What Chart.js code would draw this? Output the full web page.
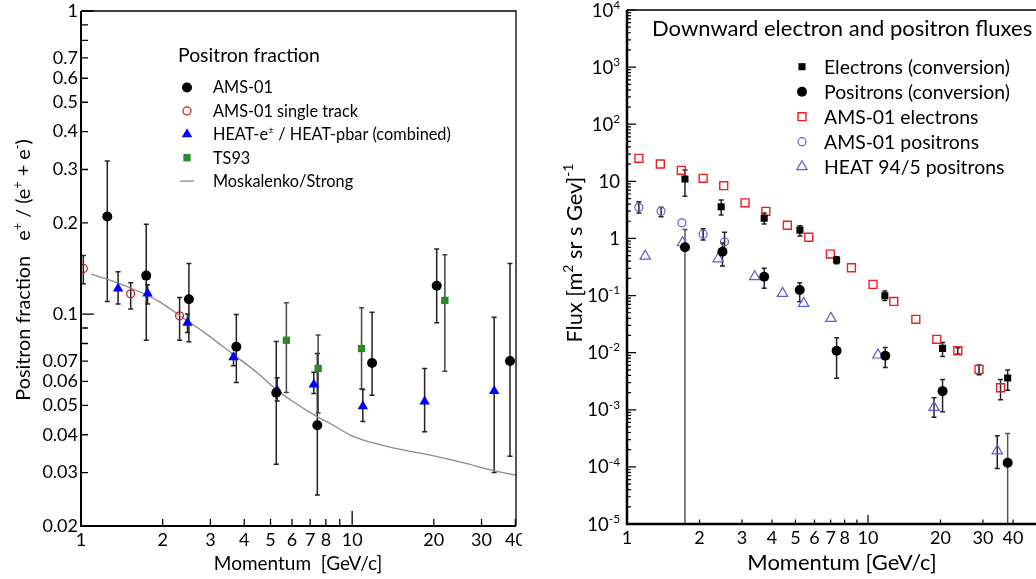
<!DOCTYPE html>
<html>
<head>
<meta charset="utf-8">
<script src="https://cdn.jsdelivr.net/npm/chart.js@4.4.1/dist/chart.umd.min.js"></script>
<style>
  body { margin: 0; background: #fff; width: 1036px; height: 579px; overflow: hidden; position: relative; }
  canvas { position: absolute; top: 0; }
  #fraction { left: 0; }
  #flux { left: 524px; }
</style>
</head>
<body>
<canvas id="fraction" width="522" height="579"></canvas>
<canvas id="flux" width="520" height="579"></canvas>
<script>
// ---- positron fraction (left) ----
const amsP      = [1.25, 1.74, 2.50, 3.74, 5.25, 7.44, 11.84, 20.5, 38.2];
const amsFrac   = [0.21, 0.134, 0.112, 0.078, 0.055, 0.043, 0.069, 0.124, 0.070];
const amsFracLo = [0.11, 0.082, 0.081, 0.0595, 0.032, 0.0253, 0.054, 0.0936, 0.034];
const amsFracHi = [0.32, 0.198, 0.147, 0.0998, 0.0813, 0.0742, 0.1015, 0.164, 0.147];

const singleP    = [1.02, 1.525, 2.31];
const singleFrac = [0.1415, 0.1167, 0.0987];
const singleLo   = [0.126, 0.104, 0.082];
const singleHi   = [0.156, 0.127, 0.1135];

const heatP      = [1.37, 1.76, 2.47, 3.65, 5.29, 7.22, 10.95, 18.5, 33.4];
const heatFrac   = [0.1216, 0.117, 0.0936, 0.072, 0.0561, 0.0586, 0.0497, 0.0515, 0.0558];
const heatFracLo = [0.108, 0.108, 0.087, 0.0675, 0.0517, 0.0547, 0.0442, 0.0409, 0.030];
const heatFracHi = [0.138, 0.125, 0.100, 0.0742, 0.0617, 0.0643, 0.0564, 0.0662, 0.0976];

const ts93P    = [5.72, 7.49, 10.83, 21.97];
const ts93Frac = [0.082, 0.0662, 0.077, 0.111];
const ts93Lo   = [0.0551, 0.0472, 0.0567, 0.0648];
const ts93Hi   = [0.109, 0.0853, 0.105, 0.157];

const modelP    = [1.09, 1.28, 1.644, 1.95, 2.30, 2.88, 3.60, 4.50, 5.17, 5.95, 7.45, 8.33, 9.85, 11, 14.6, 19.2, 25.4, 33.6, 40.2];
const modelFrac = [0.1355, 0.1295, 0.1185, 0.1098, 0.0993, 0.0864, 0.0742, 0.0637, 0.057, 0.052, 0.0458, 0.0435, 0.0399, 0.0384, 0.036, 0.0343, 0.0324, 0.0304, 0.0294];

const fracTicksX  = [1, 2, 3, 4, 5, 6, 7, 8, 9, 10, 20, 30, 40];
const fracLabelsX = ['1', '2', '3', '4', '5', '6', '7', '8', '', '10', '20', '30', '40'];
const fracTicksY  = [0.02, 0.03, 0.04, 0.05, 0.06, 0.07, 0.08, 0.09, 0.1, 0.2, 0.3, 0.4, 0.5, 0.6, 0.7, 0.8, 0.9, 1];
const fracLabelsY = ['0.02', '0.03', '0.04', '0.05', '0.06', '0.07', '', '', '0.1', '0.2', '0.3', '0.4', '0.5', '0.6', '0.7', '', '', '1'];

// ---- downward fluxes (right) ----
const elecConvP    = [1.74, 2.46, 3.71, 5.22, 7.41, 11.75, 20.4, 38];
const elecConvFlux = [11, 3.6, 2.25, 1.4, 0.418, 0.099, 0.0119, 0.0036];
const elecConvLo   = [5.5, 2.57, 1.79, 1.1, 0.36, 0.082, 0.0086, 0.0022];
const elecConvHi   = [15.8, 4.7, 2.8, 1.66, 0.48, 0.12, 0.0151, 0.00496];

const posConvP    = [1.74, 2.49, 3.71, 5.21, 7.41, 11.8, 20.4, 38];
const posConvFlux = [0.70, 0.585, 0.214, 0.125, 0.0108, 0.0088, 0.00212, 0.000118];
const posConvLo   = [1e-5, 0.33, 0.134, 0.078, 0.00355, 0.0055, 0.00092, 1e-5];
const posConvHi   = [1.44, 0.83, 0.30, 0.168, 0.0183, 0.0123, 0.0034, 0.000385];

const amsElecP    = [1.12, 1.375, 1.68, 2.07, 2.52, 3.09, 3.77, 4.63, 5.68, 6.98, 8.54, 10.5, 12.8, 15.8, 19.3, 23.6, 28.9, 35.5];
const amsElecFlux = [25.3, 20.1, 15.6, 11.3, 8.4, 4.2, 2.98, 1.7, 1.05, 0.533, 0.307, 0.157, 0.079, 0.0383, 0.0171, 0.0108, 0.0051, 0.00243];
const amsElecLo   = [null, null, null, null, null, null, null, null, null, null, null, null, null, null, null, 0.0095, 0.0041, 0.0015];
const amsElecHi   = [null, null, null, null, null, null, null, null, null, null, null, null, null, null, null, 0.0122, 0.0061, 0.0034];

const amsPosP    = [1.12, 1.385, 1.69, 2.07, 2.54];
const amsPosFlux = [3.5, 2.98, 1.88, 1.19, 0.875];
const amsPosLo   = [2.8, 2.4, null, 0.94, 0.64];
const amsPosHi   = [4.4, 3.5, null, 1.48, 1.28];

const heat95P    = [1.19, 1.70, 2.39, 3.39, 4.42, 5.41, 7.02, 11.0, 18.8, 34.4];
const heat95Flux = [0.49, 0.84, 0.44, 0.214, 0.109, 0.073, 0.0398, 0.0091, 0.0011, 0.000191];
const heat95Lo   = [null, null, null, null, null, null, null, null, 0.00074, 0.000094];
const heat95Hi   = [null, null, null, null, null, null, null, null, 0.00163, 0.00035];

const fluxTicksX  = [1, 2, 3, 4, 5, 6, 7, 8, 9, 10, 20, 30, 40];
const fluxLabelsX = ['1', '2', '3', '4', '5', '6', '7', '8', '', '10', '20', '30', '40'];
const fluxDecades = [1e-5, 1e-4, 1e-3, 1e-2, 1e-1, 1, 10, 1e2, 1e3, 1e4];
const fluxLabelsY = [['10', '-5'], ['10', '-4'], ['10', '-3'], ['10', '-2'], ['10', '-1'], ['1', ''], ['10', ''], ['10', '2'], ['10', '3'], ['10', '4']];

const FONT = 'Lato';

function points(xs, ys) {
  return xs.map((x, i) => ({ x: x, y: ys[i] }));
}

// text with raised pieces, parts = [[text, 'sup'?], ...]
function drawRich(ctx, parts, x, y, size, align) {
  const fonts = parts.map(p => (p[1] ? size * 0.64 : size) + 'px ' + FONT);
  let w = 0;
  parts.forEach((p, i) => { ctx.font = fonts[i]; w += ctx.measureText(p[0]).width; });
  let cx = align === 'center' ? x - w / 2 : align === 'right' ? x - w : x;
  ctx.textAlign = 'left';
  ctx.textBaseline = 'alphabetic';
  parts.forEach((p, i) => {
    ctx.font = fonts[i];
    const dy = p[1] === 'sup' ? -size * 0.42 : 0;
    ctx.fillText(p[0], cx, y + dy);
    cx += ctx.measureText(p[0]).width;
  });
}

function drawMarker(ctx, m, x, y) {
  ctx.save();
  ctx.beginPath();
  if (m.style === 'circle') {
    ctx.arc(x, y, m.r, 0, Math.PI * 2);
  } else if (m.style === 'rect') {
    const s = m.r * Math.SQRT1_2;
    ctx.rect(x - s, y - s, 2 * s, 2 * s);
  } else if (m.style === 'triangle') {
    ctx.moveTo(x, y - m.r);
    ctx.lineTo(x + m.r * 0.866, y + m.r / 2);
    ctx.lineTo(x - m.r * 0.866, y + m.r / 2);
    ctx.closePath();
  } else if (m.style === 'line') {
    ctx.moveTo(x - 7, y);
    ctx.lineTo(x + 7, y);
  }
  if (m.fill) { ctx.fillStyle = m.fill; ctx.fill(); }
  if (m.stroke) { ctx.strokeStyle = m.stroke; ctx.lineWidth = m.bw || 1; ctx.stroke(); }
  ctx.restore();
}

// vertical error bars from the datasets' errLo / errHi arrays
const errorBars = {
  id: 'errorBars',
  beforeDatasetsDraw(chart) {
    const { ctx, chartArea: a, scales: { x, y } } = chart;
    ctx.save();
    ctx.beginPath();
    ctx.rect(a.left, a.top, a.right - a.left, a.bottom - a.top);
    ctx.clip();
    chart.data.datasets.forEach(ds => {
      if (!ds.errLo) return;
      ctx.lineWidth = 1.5;
      ds.data.forEach((pt, i) => {
        const lo = ds.errLo[i], hi = ds.errHi[i];
        if (lo == null || hi == null) return;
        const px = x.getPixelForValue(pt.x);
        const yl = y.getPixelForValue(lo);
        const yh = y.getPixelForValue(hi);
        const toAxis = lo <= y.min;
        ctx.strokeStyle = toAxis ? '#555' : (ds.errColor || '#222');
        ctx.beginPath();
        ctx.moveTo(px, yl);
        ctx.lineTo(px, yh);
        ctx.moveTo(px - 2.5, yh);
        ctx.lineTo(px + 2.5, yh);
        if (!toAxis) {
          ctx.moveTo(px - 2.5, yl);
          ctx.lineTo(px + 2.5, yl);
        }
        ctx.stroke();
      });
    });
    ctx.restore();
  }
};

// box, inward ticks and free text for each panel
function decorations(opt) {
  return {
    id: 'decorations',
    afterDraw(chart) {
      const { ctx, chartArea: a, scales: { x, y } } = chart;
      ctx.save();
      ctx.strokeStyle = '#000';
      ctx.lineWidth = opt.tickWidth;
      ctx.beginPath();
      opt.xTicks.forEach(v => {
        const px = x.getPixelForValue(v);
        const len = opt.xMajor.includes(v) ? opt.xMajorLen : opt.xMinorLen;
        ctx.moveTo(px, a.bottom);
        ctx.lineTo(px, a.bottom - len);
      });
      opt.yTicks.forEach(v => {
        const py = y.getPixelForValue(v);
        const len = opt.yMajor.includes(v) ? opt.yMajorLen : opt.yMinorLen;
        ctx.moveTo(a.left, py);
        ctx.lineTo(a.left + len, py);
      });
      ctx.stroke();

      ctx.lineWidth = opt.frameWidth;
      ctx.beginPath();
      ctx.moveTo(a.left, a.top);
      ctx.lineTo(a.right, a.top);
      ctx.lineTo(a.right, a.bottom);
      ctx.stroke();
      ctx.lineWidth = opt.axisWidth;
      ctx.beginPath();
      ctx.moveTo(a.left, a.top);
      ctx.lineTo(a.left, a.bottom);
      ctx.lineTo(a.right, a.bottom);
      ctx.stroke();

      ctx.fillStyle = '#000';
      if (opt.yLabels) {
        opt.yLabels.forEach((lab, i) => {
          const py = y.getPixelForValue(opt.yLabelValues[i]);
          drawRich(ctx, [[lab[0]], [lab[1], 'sup']], opt.yLabelRight, py + 6.5, 18.5, 'right');
        });
      }

      // axis titles
      drawRich(ctx, opt.xTitle, opt.xTitlePos[0], opt.xTitlePos[1], opt.xTitleSize, 'center');
      ctx.save();
      ctx.translate(opt.yTitlePos[0], opt.yTitlePos[1]);
      ctx.rotate(-Math.PI / 2);
      drawRich(ctx, opt.yTitle, 0, 0, opt.yTitleSize, 'center');
      ctx.restore();

      // legend block
      drawRich(ctx, [[opt.legendTitle]], opt.legendTitlePos[0], opt.legendTitlePos[1], opt.legendTitleSize, 'left');
      opt.legend.forEach((item, i) => {
        const cy = opt.legendTop + i * opt.legendStep;
        drawMarker(ctx, item.marker, opt.legendMarkerX, cy);
        ctx.fillStyle = '#000';
        drawRich(ctx, item.text, opt.legendTextX, cy + opt.legendSize * 0.36, opt.legendSize, 'left');
      });
      ctx.restore();
    }
  };
}

function logAxis(min, max, ticks, labels, fit, extra) {
  return Object.assign({
    type: 'logarithmic',
    min: min,
    max: max,
    grid: { display: false, drawTicks: false },
    border: { display: false },
    afterBuildTicks: s => { s.ticks = ticks.map(v => ({ value: v })); },
    afterFit: fit,
    ticks: {
      autoSkip: false,
      maxRotation: 0,
      color: '#000',
      font: { family: FONT, size: 18 },
      callback: (v, i) => labels[i]
    }
  }, extra || {});
}

const baseOptions = {
  responsive: false,
  animation: false,
  events: [],
  plugins: { legend: { display: false }, tooltip: { enabled: false } }
};

// left panel
const fracMarkers = {
  ams:    { style: 'circle', r: 5, fill: '#000' },
  single: { style: 'circle', r: 4, stroke: '#c8161d', bw: 1.2 },
  heat:   { style: 'triangle', r: 6, fill: '#0000ff' },
  ts93:   { style: 'rect', r: 5.2, fill: '#2a8a2a' },
  model:  { style: 'line', stroke: '#8a8a8a', bw: 1.3 }
};

new Chart(document.getElementById('fraction'), {
  type: 'scatter',
  data: {
    datasets: [
      { label: 'AMS-01', data: points(amsP, amsFrac), errLo: amsFracLo, errHi: amsFracHi,
        pointStyle: 'circle', pointRadius: 5, backgroundColor: '#000', borderWidth: 0, order: 1 },
      { label: 'AMS-01 single track', data: points(singleP, singleFrac), errLo: singleLo, errHi: singleHi,
        pointStyle: 'circle', pointRadius: 4, backgroundColor: 'rgba(0,0,0,0)', borderColor: '#c8161d', borderWidth: 1.2, order: 2 },
      { label: 'HEAT', data: points(heatP, heatFrac), errLo: heatFracLo, errHi: heatFracHi,
        pointStyle: 'triangle', pointRadius: 6, backgroundColor: '#0000ff', borderWidth: 0, order: 3 },
      { label: 'TS93', data: points(ts93P, ts93Frac), errLo: ts93Lo, errHi: ts93Hi, errColor: '#444',
        pointStyle: 'rect', pointRadius: 5.2, backgroundColor: '#2a8a2a', borderWidth: 0, order: 4 },
      { label: 'Moskalenko/Strong', data: points(modelP, modelFrac), showLine: true, pointRadius: 0,
        borderColor: '#8a8a8a', borderWidth: 1.3, cubicInterpolationMode: 'monotone', order: 10 }
    ]
  },
  options: Object.assign({}, baseOptions, {
    layout: { padding: { top: 11, right: 1, left: 0, bottom: 0 } },
    scales: {
      x: logAxis(1, 40.2, fracTicksX, fracLabelsX, s => { s.height = 53; s.paddingLeft = 0; s.paddingRight = 0; }),
      y: logAxis(0.02, 1, fracTicksY, fracLabelsY, s => { s.width = 81; s.paddingTop = 0; s.paddingBottom = 0; })
    }
  }),
  plugins: [errorBars, decorations({
    xTicks: fracTicksX, xMajor: [1, 10], xMajorLen: 15, xMinorLen: 7,
    yTicks: fracTicksY, yMajor: [0.1, 1], yMajorLen: 13, yMinorLen: 7,
    tickWidth: 1.3, frameWidth: 1.3, axisWidth: 2,
    xTitle: [['Momentum  [GeV/c]']], xTitlePos: [298, 570], xTitleSize: 19,
    yTitle: [['Positron fraction   e'], ['+', 'sup'], [' / (e'], ['+', 'sup'], [' + e'], ['-', 'sup'], [')']],
    yTitlePos: [30, 270], yTitleSize: 19.8,
    legendTitle: 'Positron fraction', legendTitlePos: [178, 62], legendTitleSize: 19.4,
    legendMarkerX: 187, legendTextX: 213, legendTop: 87.5, legendStep: 23.4, legendSize: 16.3,
    legend: [
      { marker: fracMarkers.ams, text: [['AMS-01']] },
      { marker: fracMarkers.single, text: [['AMS-01 single track']] },
      { marker: fracMarkers.heat, text: [['HEAT-e'], ['±', 'sup'], [' / HEAT-pbar (combined)']] },
      { marker: fracMarkers.ts93, text: [['TS93']] },
      { marker: fracMarkers.model, text: [['Moskalenko/Strong']] }
    ]
  })]
});

// right panel
const fluxYTicks = [];
fluxDecades.forEach(d => {
  for (let k = 1; k <= 9; k++) {
    if (d * k <= 1e4) fluxYTicks.push(d * k);
  }
});

const fluxMarkers = {
  elec:    { style: 'rect', r: 5, fill: '#000' },
  pos:     { style: 'circle', r: 5, fill: '#000' },
  amsElec: { style: 'rect', r: 5.6, stroke: '#ee1c24', bw: 1.4 },
  amsPos:  { style: 'circle', r: 4, stroke: '#5c5cd8', bw: 1.2 },
  heat:    { style: 'triangle', r: 6, stroke: '#5c5cd8', bw: 1.2 }
};

new Chart(document.getElementById('flux'), {
  type: 'scatter',
  data: {
    datasets: [
      { label: 'Electrons (conversion)', data: points(elecConvP, elecConvFlux), errLo: elecConvLo, errHi: elecConvHi,
        pointStyle: 'rect', pointRadius: 5, backgroundColor: '#000', borderWidth: 0, order: 1 },
      { label: 'Positrons (conversion)', data: points(posConvP, posConvFlux), errLo: posConvLo, errHi: posConvHi,
        pointStyle: 'circle', pointRadius: 5, backgroundColor: '#000', borderWidth: 0, order: 2 },
      { label: 'AMS-01 electrons', data: points(amsElecP, amsElecFlux), errLo: amsElecLo, errHi: amsElecHi,
        pointStyle: 'rect', pointRadius: 5.6, backgroundColor: 'rgba(0,0,0,0)', borderColor: '#ee1c24', borderWidth: 1.4, order: 3 },
      { label: 'AMS-01 positrons', data: points(amsPosP, amsPosFlux), errLo: amsPosLo, errHi: amsPosHi,
        pointStyle: 'circle', pointRadius: 4, backgroundColor: 'rgba(0,0,0,0)', borderColor: '#5c5cd8', borderWidth: 1.2, order: 4 },
      { label: 'HEAT 94/5 positrons', data: points(heat95P, heat95Flux), errLo: heat95Lo, errHi: heat95Hi,
        pointStyle: 'triangle', pointRadius: 6, backgroundColor: 'rgba(0,0,0,0)', borderColor: '#5c5cd8', borderWidth: 1.2, order: 5 }
    ]
  },
  options: Object.assign({}, baseOptions, {
    layout: { padding: { top: 10, right: 3, left: 0, bottom: 0 } },
    scales: {
      x: logAxis(1, 50.2, fluxTicksX, fluxLabelsX, s => { s.height = 55; s.paddingLeft = 0; s.paddingRight = 0; }),
      y: logAxis(1e-5, 1e4, fluxDecades, fluxDecades.map(() => ''), s => { s.width = 103; s.paddingTop = 0; s.paddingBottom = 0; },
        { ticks: { display: false } })
    }
  }),
  plugins: [errorBars, decorations({
    xTicks: fluxTicksX, xMajor: [1, 10], xMajorLen: 9, xMinorLen: 4.5,
    yTicks: fluxYTicks, yMajor: fluxDecades, yMajorLen: 9, yMinorLen: 4,
    tickWidth: 1.2, frameWidth: 1.5, axisWidth: 2.5,
    yLabels: fluxLabelsY, yLabelValues: fluxDecades, yLabelRight: 96,
    xTitle: [['Momentum [GeV/c]']], xTitlePos: [318, 570], xTitleSize: 22,
    yTitle: [['Flux [m'], ['2', 'sup'], [' sr s Gev]'], ['-1', 'sup']],
    yTitlePos: [58, 253], yTitleSize: 21.8,
    legendTitle: 'Downward electron and positron fluxes', legendTitlePos: [128, 36], legendTitleSize: 22,
    legendMarkerX: 278, legendTextX: 300, legendTop: 66.7, legendStep: 25, legendSize: 19.4,
    legend: [
      { marker: fluxMarkers.elec, text: [['Electrons (conversion)']] },
      { marker: fluxMarkers.pos, text: [['Positrons (conversion)']] },
      { marker: fluxMarkers.amsElec, text: [['AMS-01 electrons']] },
      { marker: fluxMarkers.amsPos, text: [['AMS-01 positrons']] },
      { marker: fluxMarkers.heat, text: [['HEAT 94/5 positrons']] }
    ]
  })]
});
</script>
</body>
</html>
